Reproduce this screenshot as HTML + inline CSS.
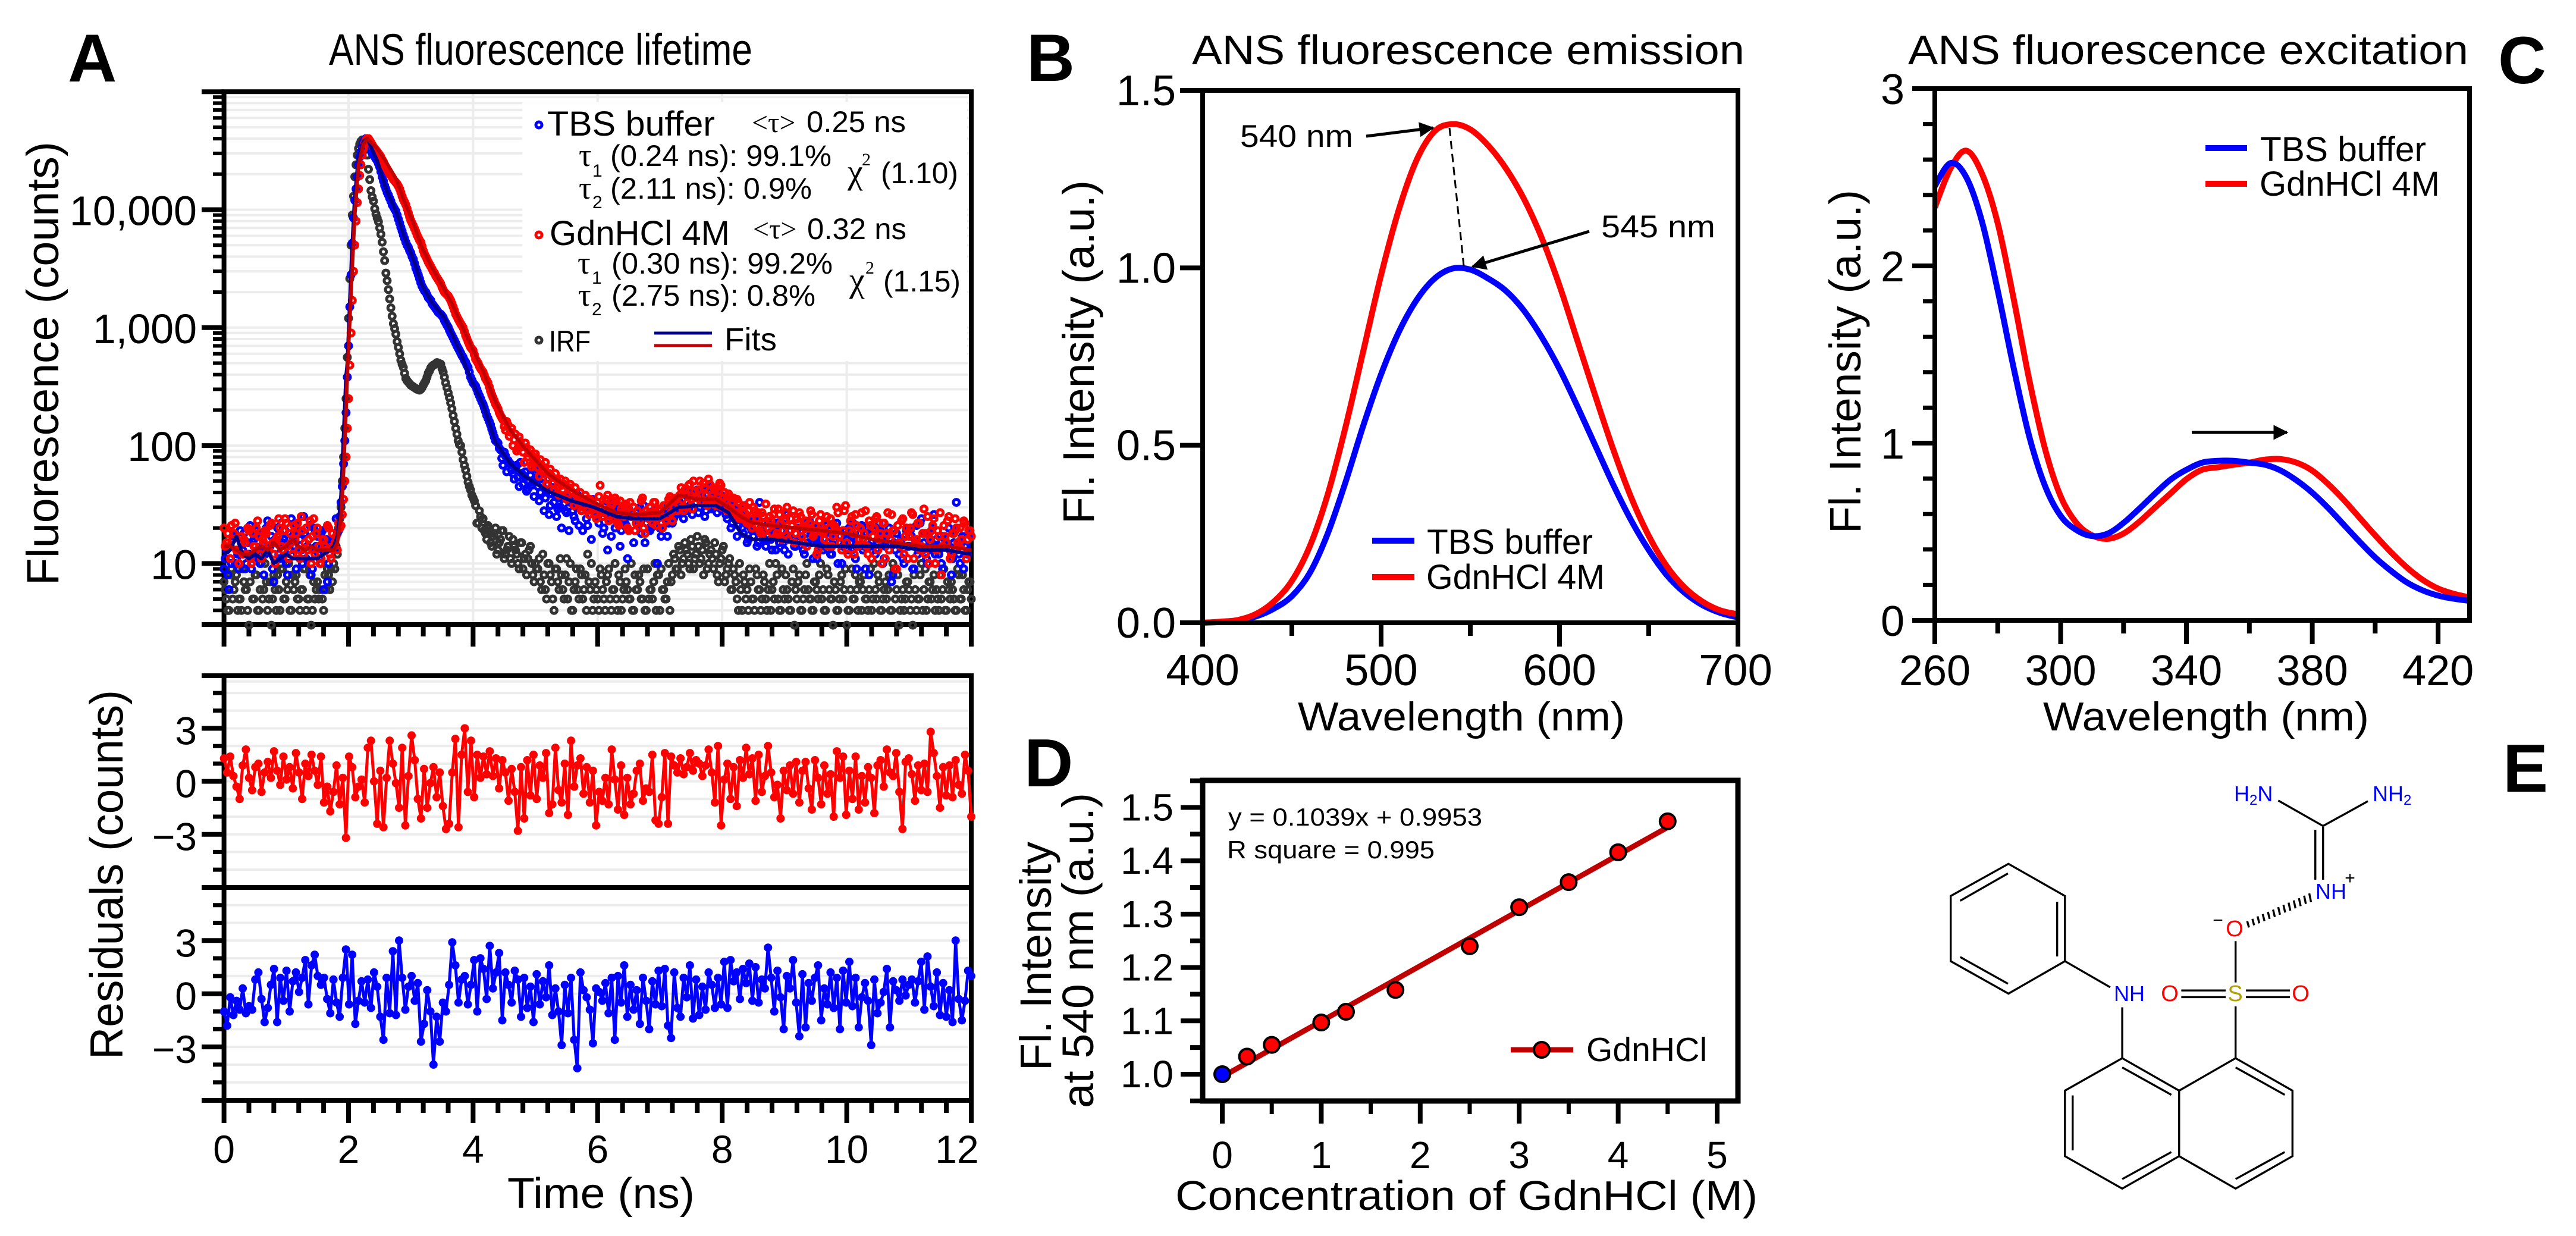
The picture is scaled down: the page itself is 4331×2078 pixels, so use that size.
<!DOCTYPE html>
<html lang="en">
<head>
<meta charset="utf-8">
<title>ANS fluorescence figure</title>
<style>
html,body{margin:0;padding:0;background:#fff}
svg{display:block}
text{font-family:"Liberation Sans",Arial,sans-serif;fill:#000}
.serif{font-family:"Liberation Serif",serif}
</style>
</head>
<body>
<svg id="figure" xmlns="http://www.w3.org/2000/svg" width="4331" height="2078" viewBox="0 0 4331 2078">
<defs>
<marker id="arrow-head" viewBox="0 0 10 10" refX="9" refY="5" markerWidth="7" markerHeight="5" orient="auto" markerUnits="strokeWidth"><path d="M0 0L10 5L0 10Z" fill="#000"/></marker>
</defs>
<rect width="4331" height="2078" fill="#fff"/>

<text x="114" y="137" font-size="114" font-weight="bold">A</text>
<text x="1726" y="136" font-size="112" font-weight="bold">B</text>
<text x="4200" y="140" font-size="112" font-weight="bold">C</text>
<text x="1722" y="1322" font-size="114" font-weight="bold">D</text>
<text x="4208" y="1331" font-size="114" font-weight="bold">E</text>

<text x="553" y="109" font-size="74" textLength="712" lengthAdjust="spacingAndGlyphs">ANS fluorescence lifetime</text>
<text x="2004" y="108" font-size="70" textLength="929" lengthAdjust="spacingAndGlyphs">ANS fluorescence emission</text>
<text x="3208" y="108" font-size="70" textLength="942" lengthAdjust="spacingAndGlyphs">ANS fluorescence excitation</text>

<g id="grid-a"></g>
<rect x="878" y="172" width="748" height="435" fill="#fff"/>
<g id="axes-a"></g>
<g id="data-a"></g>

<g>
<text x="920" y="228" font-size="58" textLength="282" lengthAdjust="spacingAndGlyphs">TBS buffer</text>
<text class="serif" x="1264" y="222" font-size="48">&lt;τ&gt;</text>
<text x="1356" y="222" font-size="50" textLength="167" lengthAdjust="spacingAndGlyphs">0.25 ns</text>
<text class="serif" x="973" y="279" font-size="54">τ</text>
<text x="996" y="297" font-size="30">1</text>
<text x="1026" y="279" font-size="50" textLength="372" lengthAdjust="spacingAndGlyphs">(0.24 ns): 99.1%</text>
<text class="serif" x="973" y="334" font-size="54">τ</text>
<text x="996" y="350" font-size="30">2</text>
<text x="1026" y="334" font-size="50" textLength="339" lengthAdjust="spacingAndGlyphs">(2.11 ns): 0.9%</text>
<text class="serif" x="1425" y="308" font-size="58">χ</text>
<text class="serif" x="1449" y="278" font-size="30">2</text>
<text x="1481" y="308" font-size="50" textLength="130" lengthAdjust="spacingAndGlyphs">(1.10)</text>

<text x="924" y="412" font-size="58" textLength="303" lengthAdjust="spacingAndGlyphs">GdnHCl 4M</text>
<text class="serif" x="1266" y="401" font-size="48">&lt;τ&gt;</text>
<text x="1357" y="402" font-size="50" textLength="167" lengthAdjust="spacingAndGlyphs">0.32 ns</text>
<text class="serif" x="971" y="460" font-size="54">τ</text>
<text x="995" y="477" font-size="30">1</text>
<text x="1028" y="460" font-size="50" textLength="372" lengthAdjust="spacingAndGlyphs">(0.30 ns): 99.2%</text>
<text class="serif" x="972" y="514" font-size="54">τ</text>
<text x="995" y="530" font-size="30">2</text>
<text x="1028" y="514" font-size="50" textLength="343" lengthAdjust="spacingAndGlyphs">(2.75 ns): 0.8%</text>
<text class="serif" x="1428" y="490" font-size="58">χ</text>
<text class="serif" x="1455" y="460" font-size="30">2</text>
<text x="1485" y="490" font-size="50" textLength="130" lengthAdjust="spacingAndGlyphs">(1.15)</text>

<text x="923" y="591" font-size="50" textLength="70" lengthAdjust="spacingAndGlyphs">IRF</text>
<text x="1218" y="589" font-size="54" textLength="88" lengthAdjust="spacingAndGlyphs">Fits</text>
<line x1="1100" y1="560" x2="1197" y2="560" stroke="#00008b" stroke-width="5"/>
<line x1="1100" y1="581" x2="1197" y2="581" stroke="#c00000" stroke-width="5"/>
<circle cx="906" cy="210" r="5" fill="none" stroke="#00f" stroke-width="5"/>
<circle cx="906" cy="395" r="5" fill="none" stroke="#f00" stroke-width="5"/>
<circle cx="906" cy="572" r="5" fill="none" stroke="#333" stroke-width="5"/>
</g>

<text transform="translate(98,984) rotate(-90)" font-size="76" textLength="746" lengthAdjust="spacingAndGlyphs">Fluorescence (counts)</text>
<text transform="translate(206,1781) rotate(-90)" font-size="78" textLength="621" lengthAdjust="spacingAndGlyphs">Residuals (counts)</text>
<text x="853" y="2031" font-size="72" textLength="315" lengthAdjust="spacingAndGlyphs">Time (ns)</text>

<g id="panel-b"></g>
<line x1="2437" y1="215" x2="2461" y2="447" stroke="#000" stroke-width="3" stroke-dasharray="14 8"/>
<line x1="2297" y1="229" x2="2409" y2="215" stroke="#000" stroke-width="5" marker-end="url(#arrow-head)"/>
<line x1="2672" y1="389" x2="2476" y2="448" stroke="#000" stroke-width="5" marker-end="url(#arrow-head)"/>
<text x="2085" y="247" font-size="53" textLength="190" lengthAdjust="spacingAndGlyphs">540 nm</text>
<text x="2692" y="399" font-size="53" textLength="192" lengthAdjust="spacingAndGlyphs">545 nm</text>
<line x1="2307" y1="909" x2="2378" y2="909" stroke="#00f" stroke-width="10"/>
<line x1="2307" y1="970" x2="2378" y2="970" stroke="#f00" stroke-width="10"/>
<text x="2399" y="931" font-size="58" textLength="279" lengthAdjust="spacingAndGlyphs">TBS buffer</text>
<text x="2398" y="990" font-size="58" textLength="300" lengthAdjust="spacingAndGlyphs">GdnHCl 4M</text>
<text x="2182" y="1228" font-size="68" textLength="550" lengthAdjust="spacingAndGlyphs">Wavelength (nm)</text>
<text transform="translate(1839,881) rotate(-90)" font-size="74" textLength="578" lengthAdjust="spacingAndGlyphs">Fl. Intensity (a.u.)</text>

<g id="panel-c"></g>
<line x1="3685" y1="727" x2="3845" y2="727" stroke="#000" stroke-width="5" marker-end="url(#arrow-head)"/>
<line x1="3708" y1="249" x2="3778" y2="249" stroke="#00f" stroke-width="10"/>
<line x1="3708" y1="309" x2="3778" y2="309" stroke="#f00" stroke-width="10"/>
<text x="3800" y="271" font-size="58" textLength="279" lengthAdjust="spacingAndGlyphs">TBS buffer</text>
<text x="3799" y="329" font-size="58" textLength="303" lengthAdjust="spacingAndGlyphs">GdnHCl 4M</text>
<text x="3435" y="1228" font-size="68" textLength="548" lengthAdjust="spacingAndGlyphs">Wavelength (nm)</text>
<text transform="translate(3128,897) rotate(-90)" font-size="74" textLength="578" lengthAdjust="spacingAndGlyphs">Fl. Intensity (a.u.)</text>

<g id="panel-d"></g>
<text x="2065" y="1388" font-size="42" textLength="427" lengthAdjust="spacingAndGlyphs">y = 0.1039x + 0.9953</text>
<text x="2063" y="1443" font-size="42" textLength="349" lengthAdjust="spacingAndGlyphs">R square = 0.995</text>
<line x1="2540" y1="1765" x2="2645" y2="1765" stroke="#c00000" stroke-width="9"/>
<circle cx="2592" cy="1765" r="13" fill="#f00" stroke="#000" stroke-width="4"/>
<text x="2667" y="1784" font-size="57" textLength="203" lengthAdjust="spacingAndGlyphs">GdnHCl</text>
<text x="1976" y="2034" font-size="70" textLength="979" lengthAdjust="spacingAndGlyphs">Concentration of GdnHCl (M)</text>
<text transform="translate(1767,1800) rotate(-90)" font-size="74" textLength="385" lengthAdjust="spacingAndGlyphs">Fl. Intensity</text>
<text transform="translate(1838,1863) rotate(-90)" font-size="74" textLength="530" lengthAdjust="spacingAndGlyphs">at 540 nm (a.u.)</text>

<g>
<g transform="translate(3200,1240) scale(.7246,.5348)" fill="none" stroke="#000" stroke-width="3.4">
<path vector-effect="non-scaling-stroke" d="M244 397L375 498V703L244 805L110 703V498ZM243 427L132 513M357 516V688M132 690L243 774"/>
<path vector-effect="non-scaling-stroke" d="M375 703L480 785M508 848V1008"/>
<path vector-effect="non-scaling-stroke" d="M508 1008L640 1110V1316L508 1418L375 1316V1110ZM771 1008L903 1110V1316L771 1418L640 1316V1110ZM508 1037L622 1123M393 1125V1298M508 1388L622 1303M771 1037L885 1123M771 1388L885 1303"/>
<path vector-effect="non-scaling-stroke" d="M771 1008V845M771 770V640M645 795H748M645 816H748M795 795H897M795 816H897"/>
<path vector-effect="non-scaling-stroke" d="M798 577L802 597M810 570L814 590M822 562L826 584M834 555L838 577M846 548L850 570M858 541L862 564M870 533L874 557M882 526L886 550M894 519L898 544M906 512L910 537M918 505L922 530M930 497L934 523M942 490L946 517"/>
<path vector-effect="non-scaling-stroke" d="M956 290V447M974 280V447M974 278L870 198M974 278L1078 200"/>
</g>
<text x="3580" y="1683" font-size="36" text-anchor="middle" style="fill:#00f">NH</text>
<text x="3648" y="1683" font-size="38" text-anchor="middle" style="fill:#f00">O</text>
<text x="3868" y="1683" font-size="38" text-anchor="middle" style="fill:#f00">O</text>
<text x="3758" y="1683" font-size="38" text-anchor="middle" style="fill:#b0a000">S</text>
<text x="3757" y="1574" font-size="38" text-anchor="middle" style="fill:#f00">O</text>
<text x="3729" y="1557" font-size="30" text-anchor="middle">−</text>
<text x="3919" y="1511" font-size="36" text-anchor="middle" style="fill:#00f">NH</text>
<text x="3951" y="1486" font-size="30" text-anchor="middle">+</text>
<text x="3756" y="1347" font-size="36" style="fill:#00f">H<tspan font-size="24" dy="6">2</tspan><tspan dy="-6">N</tspan></text>
<text x="3989" y="1347" font-size="36" style="fill:#00f">NH<tspan font-size="24" dy="6">2</tspan></text>
</g>
</svg>

<script>
// ---- Panel A: fluorescence decay counts. Channels are read in two interleaved
// passes: the main array from t = 0, the "Offset" array from t = countOffsetNs. ----
const countStepNs = 0.04;
const countOffsetNs = 0.02;
const irfCounts = [7,5,4,9,6,8,5,4,7,6,3,9,5,8,4,10,6,7,5,3,8,4,6,9,5,7,10,4,6,8,5,6,9,4,5,3,7,6,5,10,4,6,8,9,
10,14,20,30,80,250,1200,5000,13000,24000,33000,38000,38500,34000,22000,14500,11800,9200,7900,6200,4400,2900,2100,1470,1080,880,680,530,460,370,345,325,315,305,300,300,325,355,410,455,480,495,500,490,420,340,280,230,180,140,110,100,76,62,49,42,36,31,22,25,24,
18,21,15,17,20,13,16,19,12,14,11,16,13,10,15,9,12,11,14,
8,10,9,7,12,6,10,8,5,9,7,11,6,8,5,10,4,7,6,9,5,8,12,6,4,7,5,9,6,4,8,5,6,10,4,7,5,9,6,5,4,8,6,7,5,4,9,6,5,10,8,4,6,5,7,4,
8,11,9,13,10,15,12,9,14,11,17,10,13,16,9,12,11,15,8,10,13,7,9,11,6,8,
5,10,4,7,6,9,5,4,8,6,5,7,4,10,6,5,8,4,9,5,6,4,7,3,5,8,4,6,10,5,4,7,6,8,5,4,9,6,5,7,4,5,8,6,3,4,9,5,6,7,4,8,5,6,4,10,5,7,4,6,5,8,4,9,6,3,5,4,7,6,5,8,4,5,10,6,4,7,5,8,6,4,5,9,4,6,7,5,4,8,5,6,4,7,5];
const irfCountsOffset = [6,4,8,5,7,4,5,9,6,4,7,5,8,4,6,5,10,4,7,5,6,8,4,9,5,6,4,8,7,5,4,6,9,5,8,4,5,7,6,5,8,9,6,7,9,
12,24,50,140,560,2600,9000,19000,29000,36000,39000,37000,29000,18000,12800,10200,8500,7000,5300,3700,2500,1750,1250,980,760,600,490,410,355,335,320,310,300,295,310,340,380,430,470,485,505,495,450,380,310,255,205,160,125,102,88,68,55,45,38,34,22,28,20,19,16,
20,14,18,12,15,19,11,13,17,10,14,12,9,15,11,8,13,10,
7,9,11,6,8,5,10,7,4,9,6,8,5,11,7,4,6,9,5,8,6,4,7,10,5,6,4,8,5,7,9,4,6,5,8,4,6,7,5,10,4,6,8,5,9,4,5,6,7,4,8,9,6,5,10,7,
12,9,14,8,11,13,10,16,9,12,14,11,8,15,10,13,9,12,7,11,14,8,10,6,9,7,
4,6,8,5,4,7,5,9,6,4,8,5,6,4,7,10,5,4,6,8,5,4,9,6,7,4,5,8,6,5,4,7,5,10,6,4,8,5,3,6,4,7,5,9,4,6,5,8,4,7,6,5,4,9,5,6,8,4,5,7,6,4,10,5,8,4,6,5,7,4,3,6,5,8,4,9,5,7,6,4,5,8,6,4,7,5,6,4,9,5,8,4,6,7,5];
const tbsCounts = [9,13,6,10,17,11,9,15,18,10,12,9,16,19,11,14,8,20,13,17,7,15,12,22,16,10,18,24,14,9,19,13,25,11,16,8,20,14,12,18,6,16,10,15,13,24,
19,33,70,190,700,2800,8500,15000,24000,31000,37000,40000,37000,32000,29000,27000,24500,21000,17500,15000,13300,11800,10600,9700,8300,7100,6100,5300,4800,4300,3800,3200,2800,2400,2150,2000,1800,1700,1550,1450,1350,1300,1220,1100,1010,900,820,740,670,610,560,510,460,380,340,320,280,250,224,195,170,150,128,110,105,92,68,82,75,70,58,65,54,72,47,60,43,56,49,63,45,40,52,36,47,31,44,38,29,30,42,28,36,33,28,23,38,30,19,
33,21,29,35,27,25,30,18,28,13,26,33,20,29,14,24,22,11,27,25,19,21,30,24,15,26,19,23,28,10,20,26,24,17,27,22,29,33,27,35,40,28,31,26,38,42,30,37,25,44,33,29,41,27,39,31,36,24,33,22,28,17,26,20,31,15,21,19,24,14,33,18,16,20,25,13,18,22,15,19,13,26,17,21,14,24,16,19,12,18,23,15,20,11,16,19,14,21,17,12,18,22,15,10,19,16,20,13,17,9,16,21,14,18,8,15,19,13,22,16,11,17,20,7,15,18,12,16,10,19,14,17,9,21,13,24,15,11,18,13,26,16,12,10,17,14,20,8,15,33,12,16,9,14,18,17];
const tbsCountsOffset = [11,8,14,16,10,12,19,13,9,15,21,11,17,13,10,18,12,23,14,9,16,20,11,15,19,8,13,17,22,12,16,10,18,14,21,9,13,17,11,19,15,7,12,16,14,18,
25,45,110,380,1500,5200,12000,19000,28000,34000,39000,39000,34000,30000,28000,26000,23000,19000,16000,14000,12500,11000,10100,9000,7700,6600,5700,5000,4500,4000,3500,3000,2600,2250,2050,1900,1750,1600,1500,1400,1320,1260,1150,1050,950,860,780,700,640,580,530,480,420,360,330,300,265,235,210,180,160,138,118,108,95,78,88,60,72,62,52,68,45,58,55,41,50,46,37,53,34,48,28,42,26,39,33,25,36,20,32,27,19,34,25,30,21,28,33,24,
29,16,31,26,22,27,20,34,24,17,28,23,30,19,26,21,29,25,15,27,24,18,31,22,26,20,28,23,25,17,30,27,22,29,24,26,34,31,24,38,29,35,41,33,27,39,32,28,45,36,30,34,40,29,37,26,32,20,30,25,21,27,18,24,16,20,17,23,15,19,25,14,22,16,18,13,21,17,15,24,12,19,16,14,20,17,13,22,15,18,11,16,20,14,13,18,15,12,21,16,10,17,14,19,13,15,22,11,16,18,13,9,20,14,17,12,15,19,10,14,18,16,8,13,21,15,11,17,14,19,9,16,12,22,13,18,10,15,20,12,14,17,9,16,23,13,11,19,15,10,17,14,12,18,15];
const gdnCounts = [20,15,14,21,18,13,10,17,16,12,19,10,14,20,17,11,15,18,13,22,12,16,24,14,19,22,11,15,21,18,13,25,12,20,16,10,24,18,14,11,16,13,20,11,14,17,
22,21,35,80,250,900,3000,8000,15000,24000,33000,39000,40000,37000,34000,32000,30000,28000,25500,23000,21000,19500,18000,17000,15800,14000,12200,11000,9400,8100,7300,6500,5800,5300,4500,4000,3600,3300,3000,2750,2550,2350,2100,1950,1860,1700,1500,1300,1180,1080,1000,860,760,680,640,540,500,450,420,370,340,290,255,225,205,180,165,135,150,130,100,125,95,108,88,105,80,92,70,85,65,76,60,72,52,63,48,58,44,52,42,50,38,47,36,44,33,40,30,
38,28,35,31,26,33,46,25,32,38,29,24,36,22,34,27,30,20,33,25,19,28,23,36,18,26,30,22,33,24,28,20,31,25,37,23,34,28,38,30,42,33,47,29,41,36,50,33,44,31,47,38,42,34,48,30,40,28,37,33,26,35,24,30,27,22,33,20,28,24,19,27,22,17,25,21,29,18,26,16,23,30,19,21,15,24,27,17,20,14,22,26,18,12,23,19,16,25,20,14,21,30,17,13,28,15,19,25,12,21,16,27,18,14,23,11,20,25,16,10,22,18,13,26,19,9,15,23,12,20,17,27,11,16,22,14,29,18,10,19,24,13,17,8,21,15,25,12,18,20,14,16,23,11,19,17];
const gdnCountsOffset = [14,18,11,16,22,13,17,12,15,20,11,18,14,23,12,16,19,13,21,15,10,17,20,13,24,14,18,12,16,22,11,19,15,13,23,17,12,20,10,16,14,21,12,18,15,13,
20,26,50,140,480,1700,5000,11500,19500,29000,36500,40000,38500,35500,33000,31000,29000,26500,24000,22000,20000,18800,17500,16500,15000,13000,11600,10200,8700,7700,6900,6100,5500,4900,4200,3800,3450,3150,2900,2650,2450,2200,2000,1900,1780,1600,1400,1240,1130,1040,930,810,720,660,590,520,470,435,395,355,315,270,240,215,190,172,145,160,120,140,112,90,118,98,72,96,86,66,80,74,55,68,62,47,58,55,42,52,38,46,47,35,44,41,31,38,36,28,34,35,
26,33,30,24,37,29,27,35,23,31,26,34,21,29,25,32,19,27,30,22,25,34,20,28,24,27,33,21,29,25,31,23,35,27,30,36,32,44,28,39,46,35,50,37,42,33,48,38,52,35,44,31,41,46,36,34,39,29,36,27,33,25,31,23,28,24,30,21,27,18,25,32,20,23,26,17,29,22,19,27,16,24,28,18,22,25,15,23,20,28,17,21,13,26,18,22,14,24,17,20,27,15,19,31,12,23,18,26,14,20,16,28,12,21,17,24,13,18,22,11,27,16,19,9,21,14,24,17,11,20,26,15,22,13,18,12,25,16,21,10,19,27,14,17,23,11,18,24,15,20,13,22,16,19,14];
// ---- Panel A: exponential fit curves ----
const fitTimes = [0,.1,.2,.3,.4,.5,.6,.7,.8,.9,1,1.1,1.2,1.3,1.4,1.5,1.6,1.7,1.76,1.82,1.88,1.92,1.96,1.98,2.05,2.1,2.16,2.24,2.3,2.46,2.61,2.77,2.89,3.05,3.17,3.33,3.53,3.66,3.8,3.96,4.16,4.36,4.6,4.83,5.2,5.58,5.94,6.3,6.6,7,7.3,7.6,7.9,8.1,8.3,8.5,8.8,9.2,9.6,10,10.4,10.8,11.2,11.6,12];
const tbsFit = [12,13,17,12,11,12,11,13,10,11,12,11,11,11,11,11,12,13,14,17,38,120,390,490,4000,13000,28000,38000,40000,26000,14600,9500,6000,3700,2350,1660,1230,890,610,370,224,107,70,55,41,34,30,25,24,24,30,31,31,27,18,16,16,15,14,14,14,14,13,13,12];
const gdnFit = [14,14,13,12,12,13,14,13,15,13,14,16,14,13,14,13,13,13,13,15,25,60,200,400,2500,9000,24000,36000,40000,33000,25000,18000,12000,7500,4900,3300,2150,1600,1100,720,430,235,135,95,58,42,33,27,26,27,38,35,35,30,25,22,21,20,19,18,16,15,14,14,13];
// ---- Panel A: weighted residuals ----
const gdnResiduals = [1.3,0.5,1.4,0.3,-0.3,-1.0,0.9,1.8,0.2,-0.5,0.8,1.0,-0.6,0.5,1.1,0.2,1.7,0.6,-0.2,1.4,
0.1,0.8,-0.4,1.6,0.5,-1.0,1.0,0.3,1.5,0.6,-0.2,1.4,-1.2,-0.3,-1.7,-0.6,0.9,-1.3,0.2,-3.2,
1.4,0.8,-0.9,-0.3,0.1,-1.2,1.9,2.3,0.0,-2.4,0.6,-2.6,0.2,2.3,1.0,-0.1,-1.5,1.9,-2.5,0.3,
2.6,1.2,-1.0,-2.1,0.7,-1.5,-0.1,0.8,-0.9,0.5,-1.4,-2.7,-2.4,0.5,2.4,-2.6,1.5,3.0,-0.6,2.3,
-0.9,1.5,0.2,1.4,0.4,1.7,0.3,1.3,-0.4,1.2,0.5,-1.1,0.7,-0.6,-2.8,0.8,-2.1,1.2,-0.8,1.5,
-1.0,0.9,0.2,1.6,-1.8,-1.3,1.9,-0.5,-1.2,1.0,-1.9,2.3,-0.3,0.9,1.3,-0.7,0.8,-1.2,0.6,-2.5,
-0.6,-1.1,0.2,-1.3,1.8,0.1,-1.6,0.9,-1.9,0.2,-1.3,-0.7,0.6,1.0,-1.1,-0.4,-0.6,1.5,-2.2,-2.4,
-0.9,1.6,-2.4,1.4,0.9,0.5,1.3,0.4,0.8,1.6,0.6,1.2,1.0,0.3,0.9,1.8,0.5,-1.2,2.0,-2.5,
0.1,1.0,-1.0,0.8,-1.4,1.2,0.2,1.9,0.4,1.3,-1.1,1.5,-0.6,0.3,2.0,0.5,-0.9,-0.2,-2.1,0.6,
-0.5,0.9,-0.7,1.1,-1.2,0.6,1.1,-0.4,-1.6,1.2,0.2,-1.3,0.9,-0.7,0.4,-2.0,1.7,0.2,1.4,-1.9,
0.6,-1.0,1.4,-1.6,0.3,-1.2,0.8,0.2,-1.8,0.9,1.2,-0.3,1.8,0.5,0.3,1.6,-0.6,-2.7,1.1,1.3,
0.4,-1.1,0.9,-0.5,1.0,-0.6,2.8,1.6,0.3,-1.5,0.8,-0.8,0.9,-0.9,1.2,-0.2,-0.7,1.5,0.6,-2.0];
const tbsResiduals = [-1.0,-1.8,-0.2,-1.2,-0.4,-0.9,0.3,-1.1,-0.7,-0.9,0.8,1.2,-0.3,-1.6,-0.8,0.5,1.4,-1.6,0.9,-0.4,
1.3,-1.0,0.7,1.2,0.1,0.9,1.9,-0.6,1.6,2.2,1.0,0.5,0.9,-0.3,-1.1,0.8,-0.5,-1.3,0.9,2.5,
-0.6,2.2,-1.7,-0.4,0.7,-0.5,0.8,-0.8,1.2,0.4,-1.3,-2.6,0.9,-1.1,2.4,-1.2,3.0,0.9,-0.9,0.4,
1.0,-0.4,0.6,-2.7,-1.7,0.2,-1.0,-4.0,-1.3,-2.7,-0.5,-1.0,0.5,2.9,1.6,-0.5,0.8,1.0,-0.6,0.5,
1.9,-1.0,2.0,1.4,-0.3,2.7,0.3,1.2,2.3,-1.5,1.2,0.5,-0.5,1.3,0.8,-1.3,0.9,-0.8,0.4,-1.6,
1.1,-0.6,0.7,-0.2,1.6,-1.2,0.3,-1.0,-2.9,0.5,-1.1,0.9,-2.6,-4.2,1.2,0.2,-0.2,-0.9,-2.8,0.3,
0.1,-0.4,0.6,-1.1,0.9,-2.6,1.0,-0.5,1.6,-1.3,0.5,-0.9,0.2,-1.7,0.9,-0.4,-2.0,0.7,-0.6,1.3,
-0.7,1.4,-1.8,-2.5,1.2,-0.8,-1.3,0.9,-0.2,1.6,-1.4,0.8,-1.2,0.4,-0.9,1.2,0.5,-0.8,0.9,-0.6,
1.8,-0.8,1.9,0.7,1.2,-0.3,1.4,0.6,1.7,-0.4,1.5,-0.5,0.8,0.3,2.6,0.9,-1.0,1.3,-0.2,-2.0,
1.0,0.3,1.9,-0.5,-2.4,1.1,-1.9,0.6,-0.4,0.9,1.6,-1.5,0.3,-0.6,1.2,-0.8,0.9,-2.0,1.3,-0.5,
1.8,-0.7,0.9,-1.9,-0.2,0.6,-0.4,-2.9,0.8,-1.1,-0.5,0.1,1.4,-1.9,0.7,0.2,-0.4,0.8,-0.1,0.5,
0.8,-0.5,0.7,1.8,-0.9,2.1,0.4,-0.7,1.2,-1.2,0.6,-1.3,0.2,-1.6,3.0,-0.3,-1.5,-0.4,1.3,1.0];
const timeTickLabels = [0,2,4,6,8,10,12];
const countTickValues = [10,100,1000,10000];
const countTickLabels = ['10','100','1,000','10,000'];
const minorLogFactors = [2,3,4,5,6,7,8,9];
const logDecades = [1,10,100,1000,10000];
const residualTickLabels = [3,0,-3];
// ---- Panel B: emission spectra ----
const emissionWavelengths = [400,410,420,430,440,450,460,470,480,490,500,510,520,530,540,550,560,570,580,590,600,610,620,630,640,650,660,670,680,690,700];
const emissionTbs = [0,.002,.006,.018,.04,.075,.14,.25,.395,.555,.70,.82,.91,.97,.998,.995,.97,.935,.88,.805,.715,.61,.5,.39,.29,.205,.135,.085,.05,.028,.015];
const emissionGdn = [0,.003,.008,.025,.06,.118,.215,.36,.55,.765,.98,1.165,1.305,1.385,1.405,1.39,1.345,1.28,1.195,1.085,.95,.795,.64,.49,.355,.245,.16,.1,.06,.035,.024];
const emissionXTicks = [400,500,600,700];
const emissionXMinor = [450,550,650];
const emissionYTicks = ['0.0','0.5','1.0','1.5'];
// ---- Panel C: excitation spectra ----
const excitationWavelengths = [260,265,270,275,280,285,290,295,300,305,310,315,320,325,330,335,340,345,350,355,360,365,370,375,380,385,390,395,400,405,410,415,420,425,430];
const excitationTbs = [2.45,2.58,2.5,2.25,1.86,1.43,1.04,.76,.59,.51,.476,.49,.55,.63,.715,.795,.85,.89,.9,.9,.89,.878,.845,.79,.72,.635,.54,.445,.355,.28,.215,.17,.14,.122,.11];
const excitationGdn = [2.33,2.55,2.65,2.52,2.24,1.82,1.36,.97,.70,.55,.48,.46,.49,.556,.637,.717,.797,.85,.864,.878,.89,.907,.91,.89,.845,.77,.68,.58,.48,.385,.3,.23,.18,.15,.13];
const excitationXTicks = [260,300,340,380,420];
const excitationXMinor = [280,320,360,400];
const excitationYTicks = [0,1,2,3];
const excitationYMinor = [.2,.4,.6,.8,1.2,1.4,1.6,1.8,2.2,2.4,2.6,2.8];
// ---- Panel D: intensity vs denaturant ----
const concentrations = [.25,.5,1,1.25,1.75,2.5,3,3.5,4,4.5];
const intensities = [1.033,1.055,1.097,1.117,1.158,1.24,1.313,1.36,1.416,1.474];
const bufferConcentration = [0];
const bufferIntensity = [1.0];
const fitSlope = 0.1039;
const fitIntercept = 0.9953;
const fitRange = [0,4.5];
const concXTicks = [0,1,2,3,4,5];
const concXMinor = [.5,1.5,2.5,3.5,4.5];
const concYTicks = ['1.0','1.1','1.2','1.3','1.4','1.5'];
const concYMinor = [.95,1.05,1.15,1.25,1.35,1.45,1.55];

const NS = 'http://www.w3.org/2000/svg';
function add(parent, tag, name, attrs) {
  const el = document.createElementNS(NS, tag);
  
  
  for (const k in attrs) { el.setAttribute(k, attrs[k]); }
  parent.appendChild(el);
  return el;
}
function label(parent, name, x, y, size, anchor, str) {
  const t = add(parent, 'text', name, {x: x, y: y, 'font-size': size, 'text-anchor': anchor});
  t.textContent = str;
  return t;
}
function hTick(parent, name, x0, x1, y, w) {
  add(parent, 'line', name, {x1: x0, x2: x1, y1: y, y2: y, stroke: '#000', 'stroke-width': w});
}
function vTick(parent, name, x, y0, y1, w) {
  add(parent, 'line', name, {x1: x, x2: x, y1: y0, y2: y1, stroke: '#000', 'stroke-width': w});
}
function smoothPath(points) {
  let d = 'M' + points[0][0].toFixed(1) + ' ' + points[0][1].toFixed(1);
  for (let i = 0; i < points.length - 1; i++) {
    const p0 = points[Math.max(i - 1, 0)], p1 = points[i], p2 = points[i + 1], p3 = points[Math.min(i + 2, points.length - 1)];
    const c1x = p1[0] + (p2[0] - p0[0]) / 6, c1y = p1[1] + (p2[1] - p0[1]) / 6;
    const c2x = p2[0] - (p3[0] - p1[0]) / 6, c2y = p2[1] - (p3[1] - p1[1]) / 6;
    d += 'C' + c1x.toFixed(1) + ' ' + c1y.toFixed(1) + ' ' + c2x.toFixed(1) + ' ' + c2y.toFixed(1) + ' ' + p2[0].toFixed(1) + ' ' + p2[1].toFixed(1);
  }
  return d;
}
function frame(parent, name, l, t, r, b, w) {
  add(parent, 'rect', name, {x: l, y: t, width: r - l, height: b - t, fill: 'none', stroke: '#000', 'stroke-width': w});
}

// ===== Panel A =====
const A_LEFT = 376.6, A_RIGHT = 1633, A_TOP = 154.2, A_BOTTOM = 1050;
const xTime = t => A_LEFT + t * (A_RIGHT - A_LEFT) / 12;
const yCount = v => A_TOP + 198.3 * (5 - Math.log10(v));
const yRedRes = r => 1313.6 - r * 29.7;
const yBlueRes = r => 1670.7 - r * 29.8;
const R_TOP = 1136, R_MID = 1492, R_BOTTOM = 1850;
const gridA = document.getElementById('grid-a');
const axesA = document.getElementById('axes-a');
const dataA = document.getElementById('data-a');
const GRID = '#ececec';

logDecades.forEach(d => {
  minorLogFactors.forEach(f => {
    const v = d * f;
    if (v < 3 || v > 1e5) return;
    add(gridA, 'line', 'grid-line-count', {x1: A_LEFT, x2: A_RIGHT, y1: yCount(v), y2: yCount(v), stroke: GRID, 'stroke-width': 4});
  });
  add(gridA, 'line', 'grid-line-decade', {x1: A_LEFT, x2: A_RIGHT, y1: yCount(d), y2: yCount(d), stroke: GRID, 'stroke-width': 4});
});
[3,4,5,6,7,8,9].forEach(v => {
  hTick(axesA, 'count-minor-tick', 358, A_LEFT, yCount(v), 6);
});
timeTickLabels.forEach(t => {
  if (t > 0 && t < 12) add(gridA, 'line', 'grid-line-time', {x1: xTime(t), x2: xTime(t), y1: A_TOP, y2: A_BOTTOM, stroke: GRID, 'stroke-width': 4});
});
[yRedRes, yBlueRes].forEach((yFn, panel) => {
  for (let r = -5; r <= 5; r++) {
    add(gridA, 'line', panel ? 'residual-grid-line-tbs' : 'residual-grid-line-gdnhcl', {x1: A_LEFT, x2: A_RIGHT, y1: yFn(r), y2: yFn(r), stroke: GRID, 'stroke-width': 4});
  }
});

logDecades.forEach(d => {
  minorLogFactors.forEach(f => {
    const v = d * f;
    if (v > 1e5 || d === 1) return;
    hTick(axesA, 'count-minor-tick', 358, A_LEFT, yCount(v), 6);
  });
});
hTick(axesA, 'count-major-tick', 339, A_LEFT, yCount(1e5), 8);
hTick(axesA, 'count-major-tick', 339, A_LEFT, A_BOTTOM, 8);
countTickValues.forEach((v, i) => {
  hTick(axesA, 'count-major-tick', 339, A_LEFT, yCount(v), 8);
  label(axesA, 'count-tick-label', 331, yCount(v) + 26, 70, 'end', countTickLabels[i]);
});
frame(axesA, 'lifetime-frame', A_LEFT, A_TOP, A_RIGHT, A_BOTTOM, 8);
frame(axesA, 'residual-frame-gdnhcl', A_LEFT, R_TOP, A_RIGHT, R_MID, 8);
frame(axesA, 'residual-frame-tbs', A_LEFT, R_MID, A_RIGHT, R_BOTTOM, 8);
[[yRedRes, R_TOP, R_MID], [yBlueRes, R_MID, R_BOTTOM]].forEach(cfg => {
  for (let r = -5; r <= 5; r++) {
    const major = r % 3 === 0;
    hTick(axesA, major ? 'residual-major-tick' : 'residual-minor-tick', major ? 339 : 358, A_LEFT, cfg[0](r), major ? 8 : 7);
  }
  hTick(axesA, 'residual-major-tick', 339, A_LEFT, cfg[1], 8);
  hTick(axesA, 'residual-major-tick', 339, A_LEFT, cfg[2], 8);
  residualTickLabels.forEach(r => {
    label(axesA, 'residual-tick-label', 331, cfg[0](r) + 27, 66, 'end', r < 0 ? '\u2212' + Math.abs(r) : String(r));
  });
});
for (let i = 0; i <= 30; i++) {
  const t = i * 0.4, major = i % 5 === 0;
  vTick(axesA, major ? 'time-major-tick-upper' : 'time-minor-tick-upper', xTime(t), A_BOTTOM, A_BOTTOM + (major ? 37 : 20), 8);
  vTick(axesA, major ? 'time-major-tick-lower' : 'time-minor-tick-lower', xTime(t), R_BOTTOM, R_BOTTOM + (major ? 38 : 21), 8);
}
timeTickLabels.forEach(t => {
  label(axesA, 'time-tick-label', xTime(t) - (t === 12 ? 24 : 0), 1955, 66, 'middle', String(t));
});

function scatter(values, offset, color, name) {
  const g = add(dataA, 'g', name + '-series', {fill: 'none', stroke: color, 'stroke-width': 5});
  values.forEach((v, i) => {
    const t = offset + i * countStepNs;
    if (t > 12) return;
    add(g, 'circle', name + '-point', {cx: xTime(t).toFixed(1), cy: yCount(v).toFixed(1), r: 5});
  });
}
scatter(irfCounts, 0, '#333333', 'irf');
scatter(irfCountsOffset, countOffsetNs, '#333333', 'irf');
scatter(tbsCounts, 0, '#0000ff', 'tbs');
scatter(tbsCountsOffset, countOffsetNs, '#0000ff', 'tbs');
scatter(gdnCounts, 0, '#ff0000', 'gdnhcl');
scatter(gdnCountsOffset, countOffsetNs, '#ff0000', 'gdnhcl');
add(dataA, 'polyline', 'tbs-fit-line', {fill: 'none', stroke: '#00008b', 'stroke-width': 6, 'stroke-linejoin': 'round', points: fitTimes.map((t, i) => xTime(t).toFixed(1) + ',' + yCount(tbsFit[i]).toFixed(1)).join(' ')});
add(dataA, 'polyline', 'gdnhcl-fit-line', {fill: 'none', stroke: '#c00000', 'stroke-width': 6, 'stroke-linejoin': 'round', points: fitTimes.map((t, i) => xTime(t).toFixed(1) + ',' + yCount(gdnFit[i]).toFixed(1)).join(' ')});

function residuals(values, yFn, color, name) {
  const step = 12 / (values.length - 1);
  const g = add(dataA, 'g', name + '-residuals', {fill: color});
  add(g, 'polyline', name + '-residual-line', {fill: 'none', stroke: color, 'stroke-width': 5, 'stroke-linejoin': 'round', points: values.map((v, i) => xTime(i * step).toFixed(1) + ',' + yFn(v).toFixed(1)).join(' ')});
  values.forEach((v, i) => {
    add(g, 'circle', name + '-residual-point', {cx: xTime(i * step).toFixed(1), cy: yFn(v).toFixed(1), r: 7});
  });
}
residuals(gdnResiduals, yRedRes, '#ff0000', 'gdnhcl');
residuals(tbsResiduals, yBlueRes, '#0000ff', 'tbs');

// ===== Panel B =====
const panelB = document.getElementById('panel-b');
const B = {l: 2022, r: 2922, t: 152, b: 1047};
const xEm = w => B.l + (w - 400) * (B.r - B.l) / 300;
const yEm = v => B.b - v * (B.b - B.t) / 1.5;
add(panelB, 'path', 'emission-line-tbs', {d: smoothPath(emissionWavelengths.map((w, i) => [xEm(w), yEm(emissionTbs[i])])), fill: 'none', stroke: '#0000ff', 'stroke-width': 10});
add(panelB, 'path', 'emission-line-gdnhcl', {d: smoothPath(emissionWavelengths.map((w, i) => [xEm(w), yEm(emissionGdn[i])])), fill: 'none', stroke: '#ff0000', 'stroke-width': 10});
frame(panelB, 'emission-frame', B.l, B.t, B.r, B.b, 8);
emissionXTicks.forEach(w => {
  vTick(panelB, 'emission-x-major-tick', xEm(w), B.b, B.b + 40, 8);
  label(panelB, 'emission-x-tick-label', xEm(w) + (w === 700 ? -4 : 0), 1152, 74, 'middle', String(w));
});
emissionXMinor.forEach(w => {
  vTick(panelB, 'emission-x-minor-tick', xEm(w), B.b, B.b + 22, 8);
});
emissionYTicks.forEach(s => {
  hTick(panelB, 'emission-y-major-tick', B.l - 38, B.l, yEm(+s), 8);
  label(panelB, 'emission-y-tick-label', 1977, yEm(+s) + 25, 72, 'end', s);
});

// ===== Panel C =====
const panelC = document.getElementById('panel-c');
const C = {l: 3253, r: 4152, t: 149, b: 1043};
const xEx = w => C.l + (w - 260) * (C.r - C.l) / 170;
const yEx = v => C.b - v * (C.b - C.t) / 3;
add(panelC, 'path', 'excitation-line-gdnhcl', {d: smoothPath(excitationWavelengths.map((w, i) => [xEx(w), yEx(excitationGdn[i])])), fill: 'none', stroke: '#ff0000', 'stroke-width': 10});
add(panelC, 'path', 'excitation-line-tbs', {d: smoothPath(excitationWavelengths.map((w, i) => [xEx(w), yEx(excitationTbs[i])])), fill: 'none', stroke: '#0000ff', 'stroke-width': 10});
frame(panelC, 'excitation-frame', C.l, C.t, C.r, C.b, 8);
excitationXTicks.forEach(w => {
  vTick(panelC, 'excitation-x-major-tick', xEx(w), C.b, C.b + 40, 8);
  label(panelC, 'excitation-x-tick-label', xEx(w), 1152, 72, 'middle', String(w));
});
excitationXMinor.forEach(w => {
  vTick(panelC, 'excitation-x-minor-tick', xEx(w), C.b, C.b + 22, 8);
});
excitationYTicks.forEach(v => {
  hTick(panelC, 'excitation-y-major-tick', C.l - 38, C.l, yEx(v), 8);
  label(panelC, 'excitation-y-tick-label', 3202, yEx(v) + 26, 72, 'end', String(v));
});
excitationYMinor.forEach(v => {
  hTick(panelC, 'excitation-y-minor-tick', C.l - 20, C.l, yEx(v), 7);
});

// ===== Panel D =====
const panelD = document.getElementById('panel-d');
const D = {l: 2022, r: 2922, t: 1312, b: 1851};
const xConc = c => 2055 + c * 166.4;
const yInt = v => 1806 - (v - 1) * 897;
frame(panelD, 'concentration-frame', D.l, D.t, D.r, D.b, 9);
concXTicks.forEach(c => {
  vTick(panelD, 'concentration-x-major-tick', xConc(c), D.b, D.b + 38, 8);
  label(panelD, 'concentration-x-tick-label', xConc(c), 1964, 64, 'middle', String(c));
});
concXMinor.forEach(c => {
  vTick(panelD, 'concentration-x-minor-tick', xConc(c), D.b, D.b + 22, 7);
});
concYTicks.forEach(s => {
  hTick(panelD, 'concentration-y-major-tick', D.l - 37, D.l, yInt(+s), 8);
  label(panelD, 'concentration-y-tick-label', 1973, yInt(+s) + 22, 64, 'end', s);
});
concYMinor.forEach(v => {
  hTick(panelD, 'concentration-y-minor-tick', D.l - 21, D.l, yInt(v), 8);
});
hTick(panelD, 'concentration-y-minor-tick', D.l - 21, D.l, D.b, 8);
add(panelD, 'line', 'concentration-fit-line', {x1: xConc(fitRange[0]), y1: yInt(fitIntercept + fitSlope * fitRange[0]), x2: xConc(fitRange[1]), y2: yInt(fitIntercept + fitSlope * fitRange[1]), stroke: '#c00000', 'stroke-width': 9});
concentrations.forEach((c, i) => {
  add(panelD, 'circle', 'concentration-point', {cx: xConc(c), cy: yInt(intensities[i]), r: 13, fill: '#ff0000', stroke: '#000', 'stroke-width': 4});
});
bufferConcentration.forEach((c, i) => {
  add(panelD, 'circle', 'buffer-point', {cx: xConc(c), cy: yInt(bufferIntensity[i]), r: 13, fill: '#0000ff', stroke: '#000', 'stroke-width': 4});
});
</script>
</body>
</html>
